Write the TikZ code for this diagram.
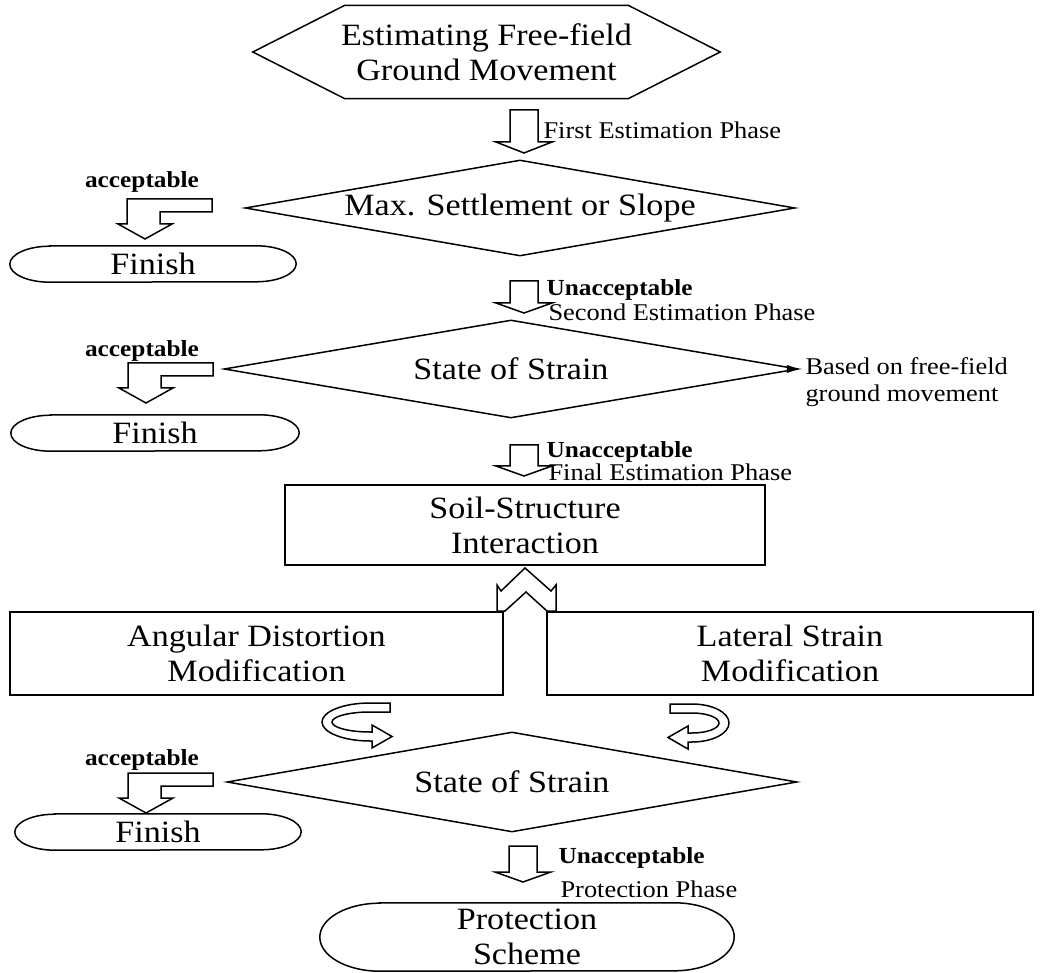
\documentclass[tikz,border=0pt]{standalone}
\usepackage{fontspec}
\setmainfont{Liberation Serif}[FakeStretch=1.1]
\usetikzlibrary{shapes.geometric}
\newcommand\Bdown[4]{\draw[blk] (#1-14,#2) -- (#1+14,#2) -- (#1+14,#3) -- (#1+28,#3) -- (#1,#4) -- (#1-28,#3) -- (#1-14,#3) -- cycle;}
\newcommand\Larrow[2]{\draw[blk] (#1,#2) -- (#1+85,#2) -- (#1+85,#2+13) -- (#1+33,#2+13) -- (#1+33,#2+25) -- (#1+45,#2+25) -- (#1+18,#2+40) -- (#1-9,#2+25) -- (#1,#2+25) -- cycle;}
\newcommand\stadium[3]{\draw[shp] ([xshift=#2pt]#1.north west) -- ([xshift=-#2pt]#1.north east) arc[start angle=90,end angle=-90,x radius=#2pt,y radius=#3pt] -- ([xshift=#2pt]#1.south west) arc[start angle=270,end angle=90,x radius=#2pt,y radius=#3pt] -- cycle;}
\begin{document}
\begin{tikzpicture}[x=1pt,y=-1pt,
  big/.style={font=\fontsize{31}{35}\selectfont, align=center},
  small/.style={font=\fontsize{24}{27}\selectfont},
  smallb/.style={font=\fontsize{23}{26}\selectfont\bfseries},
  shp/.style={draw, line width=1.5pt, line join=miter},
  blk/.style={draw, fill=white, line width=1.5pt, line join=miter},
  box/.style={draw, rectangle, line width=1.5pt, big, inner sep=0pt},
  dia/.style={draw, diamond, line width=1.5pt, big, inner sep=0pt, aspect=5.7}]
\useasboundingbox (0,0) rectangle (1042,973);
% top hexagon
\node[big, minimum width=467pt, minimum height=93pt, inner sep=0pt] (hex) at (486.5,52) {Estimating Free-field\\Ground Movement};
\draw[shp] (hex.west) -- ([xshift=92pt]hex.north west) -- ([xshift=-92pt]hex.north east) -- (hex.east) -- ([xshift=-92pt]hex.south east) -- ([xshift=92pt]hex.south west) -- cycle;
\Bdown{524}{110}{142}{153}
\node[small, anchor=west] (p1) at (540,130) {First Estimation Phase};
% diamond 1
\node[dia, minimum width=550pt, minimum height=96pt] (d1) at (520,208) {Max. Settlement or Slope};
\node[smallb] (a1) at (142,182) {acceptable};
\Larrow{127}{199}
\node[big, minimum width=286pt, minimum height=36pt, inner sep=0pt] (f1) at (153,264) {Finish};
\stadium{f1}{40}{18}
\Bdown{524}{281}{303}{313}
\node[smallb, anchor=west] (u1) at (543,290) {Unacceptable};
\node[small, anchor=west] (p2) at (545,312) {Second Estimation Phase};
% diamond 2
\node[dia, minimum width=574pt, minimum height=98pt] (d2) at (511,369) {State of Strain};
\fill (d2.east) -- ++(-12,-4) -- ++(0,8) -- cycle;
\node[small, align=left, anchor=west] (based) at (802,382) {Based on free-field\\ground movement};
\node[smallb] (a2) at (142,351) {acceptable};
\Larrow{128}{363}
\node[big, minimum width=288pt, minimum height=36pt, inner sep=0pt] (f2) at (155,433) {Finish};
\stadium{f2}{40}{18}
\Bdown{524}{445}{466}{476}
\node[smallb, anchor=west] (u2) at (543,452) {Unacceptable};
\node[small, anchor=west] (p3) at (545,472) {Final Estimation Phase};
% SSI
\node[box, minimum width=480pt, minimum height=80pt] (ssi) at (525,525) {Soil-Structure\\Interaction};
% boxes
\node[box, minimum width=493pt, minimum height=83pt] (ang) at (256.5,653.5) {Angular Distortion\\Modification};
\node[box, minimum width=486pt, minimum height=83pt] (lat) at (790,653.5) {Lateral Strain\\Modification};
% split arrow
\draw[blk] (497,611) -- (497,585) -- (501,591) -- (525,568) -- (551,591) -- (556,585) -- (556,611) -- (547,611) -- (537,602) -- (526,592) -- (515,602) -- (505,611) -- cycle;
% curved arrows
\draw[blk] (390,703) -- (370,703) arc[start angle=90,end angle=270,x radius=48pt,y radius=19pt] -- (372,741) -- (372,748) -- (392,736.5) -- (372,725) -- (372,732) -- (370,732) arc[start angle=270,end angle=90,x radius=38pt,y radius=10pt] -- (390,712) -- cycle;
\draw[blk] (670,704) -- (692,704) arc[start angle=90,end angle=-90,x radius=37pt,y radius=19pt] -- (688,742) -- (688,749) -- (668,737.5) -- (688,726) -- (688,733) -- (692,733) arc[start angle=-90,end angle=90,x radius=27pt,y radius=10pt] -- (670,713) -- cycle;
% diamond 3
\node[dia, minimum width=570pt, minimum height=100pt] (d3) at (512,782) {State of Strain};
\node[smallb] (a3) at (142,760) {acceptable};
\Larrow{128}{773}
\node[big, minimum width=286pt, minimum height=36pt, inner sep=0pt] (f3) at (158,832) {Finish};
\stadium{f3}{40}{18}
\Bdown{523}{846}{872}{882}
\node[smallb, anchor=west] (u3) at (555,858) {Unacceptable};
\node[small, anchor=west] (p4) at (557,889) {Protection Phase};
\node[big, minimum width=414pt, minimum height=68pt, inner sep=0pt] (prot) at (527,937) {Protection\\Scheme};
\stadium{prot}{60}{34}
\end{tikzpicture}
\end{document}
